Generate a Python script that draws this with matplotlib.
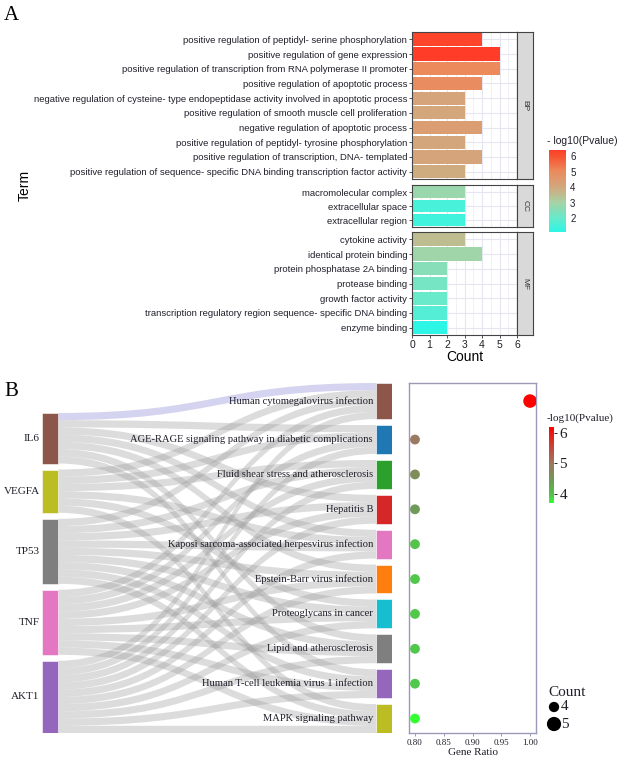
import numpy as np
import matplotlib
matplotlib.use("Agg")
import matplotlib.pyplot as plt
from matplotlib.colors import LinearSegmentedColormap, Normalize
from matplotlib.patches import Rectangle, PathPatch
from matplotlib.path import Path

SANS = "Liberation Sans"
SERIF = "Liberation Serif"
TXT = "#1f1f2a"

# ---------------- panel A data ----------------
bp_terms = ["positive regulation of peptidyl- serine phosphorylation",
            "positive regulation of gene expression",
            "positive regulation of transcription from RNA polymerase II promoter",
            "positive regulation of apoptotic process",
            "negative regulation of cysteine- type endopeptidase activity involved in apoptotic process",
            "positive regulation of smooth muscle cell proliferation",
            "negative regulation of apoptotic process",
            "positive regulation of peptidyl- tyrosine phosphorylation",
            "positive regulation of transcription, DNA- templated",
            "positive regulation of sequence- specific DNA binding transcription factor activity"]
bp_counts = [4, 5, 5, 4, 3, 3, 4, 3, 4, 3]
bp_logp = [6.2, 6.4, 5.0, 4.9, 4.1, 4.0, 4.3, 4.0, 4.1, 3.9]

cc_terms = ["macromolecular complex", "extracellular space", "extracellular region"]
cc_counts = [3, 3, 3]
cc_logp = [2.8, 1.5, 1.4]

mf_terms = ["cytokine activity", "identical protein binding",
            "protein phosphatase 2A binding", "protease binding",
            "growth factor activity",
            "transcription regulatory region sequence- specific DNA binding",
            "enzyme binding"]
mf_counts = [3, 4, 2, 2, 2, 2, 2]
mf_logp = [3.5, 2.9, 2.5, 2.2, 2.0, 1.7, 1.1]

# ---------------- panel B data ----------------
genes = ["IL6", "VEGFA", "TP53", "TNF", "AKT1"]
gene_colors = ["#8c564b", "#bcbd22", "#7f7f7f", "#e377c2", "#9467bd"]
pathways = ["Human cytomegalovirus infection",
            "AGE-RAGE signaling pathway in diabetic complications",
            "Fluid shear stress and atherosclerosis",
            "Hepatitis B",
            "Kaposi sarcoma-associated herpesvirus infection",
            "Epstein-Barr virus infection",
            "Proteoglycans in cancer",
            "Lipid and atherosclerosis",
            "Human T-cell leukemia virus 1 infection",
            "MAPK signaling pathway"]
pathway_colors = ["#8c564b", "#1f77b4", "#2ca02c", "#d62728", "#e377c2",
                  "#ff7f0e", "#17becf", "#7f7f7f", "#9467bd", "#bcbd22"]
pathway_genes = [["IL6", "VEGFA", "TP53", "TNF", "AKT1"],
                 ["IL6", "VEGFA", "TNF", "AKT1"],
                 ["VEGFA", "TP53", "TNF", "AKT1"],
                 ["IL6", "TP53", "TNF", "AKT1"],
                 ["IL6", "VEGFA", "TP53", "AKT1"],
                 ["IL6", "TP53", "TNF", "AKT1"],
                 ["VEGFA", "TP53", "TNF", "AKT1"],
                 ["IL6", "TP53", "TNF", "AKT1"],
                 ["IL6", "TP53", "TNF", "AKT1"],
                 ["VEGFA", "TP53", "TNF", "AKT1"]]
path_logp = [6.2, 4.95, 4.6, 4.45, 4.0, 3.95, 3.95, 3.95, 3.95, 3.7]
gene_ratio = [1.0, 0.8, 0.8, 0.8, 0.8, 0.8, 0.8, 0.8, 0.8, 0.8]
path_count = [len(g) for g in pathway_genes]

W, H = 638, 768
fig = plt.figure(figsize=(W / 100, H / 100), dpi=100)
fig.patch.set_facecolor("white")


def px_axes(x0, y0, x1, y1):
    return fig.add_axes([x0 / W, 1 - y1 / H, (x1 - x0) / W, (y1 - y0) / H])


# ================= panel A =================
cmap_a = LinearSegmentedColormap.from_list(
    "go", [(0.0, "#2ef6e6"), (0.17, "#68eacb"), (0.36, "#a8d2a4"),
           (0.55, "#d4a67c"), (0.74, "#ec8a5c"), (0.92, "#f8502f"), (1.0, "#ff3c28")])
all_logp = bp_logp + cc_logp + mf_logp
norm_a = Normalize(min(all_logp), max(all_logp))

facets = [("BP", bp_terms, bp_counts, bp_logp, 32, 179),
          ("CC", cc_terms, cc_counts, cc_logp, 185, 227),
          ("MF", mf_terms, mf_counts, mf_logp, 232, 335)]
for name, terms, counts, logp, y0, y1 in facets:
    ax = px_axes(412, y0, 517, y1)
    n = len(terms)
    ax.set_axisbelow(True)
    ax.barh(range(n), counts, height=0.9, color=cmap_a(norm_a(np.array(logp))))
    ax.set_xlim(0, 6)
    ax.set_ylim(n - 0.5, -0.5)
    ax.set_yticks(range(n))
    ax.set_yticklabels(terms, fontsize=6.8, family=SANS, color=TXT)
    ax.set_xticks(range(7))
    ax.set_xticks(np.arange(0.5, 6, 1), minor=True)
    ax.grid(True, which="major", color="#e6e6f2", lw=0.8)
    ax.grid(True, which="minor", axis="x", color="#eeeef6", lw=0.6)
    ax.tick_params(axis="y", length=2.5, width=0.6, color="#333333", pad=1)
    ax.tick_params(which="minor", length=0)
    if name == "MF":
        ax.set_xticklabels([str(i) for i in range(7)], fontsize=7.5, family=SANS, color=TXT)
        ax.tick_params(axis="x", length=2.5, width=0.6, color="#333333", pad=1)
    else:
        ax.tick_params(axis="x", length=0, labelbottom=False)
    for s in ax.spines.values():
        s.set_color("#444444")
        s.set_linewidth(0.8)
    st = px_axes(517, y0, 533, y1)
    st.set_facecolor("#d9d9d9")
    st.set_xticks([])
    st.set_yticks([])
    for s in st.spines.values():
        s.set_color("#444444")
        s.set_linewidth(0.8)
    st.text(0.5, 0.5, name, rotation=-90, ha="center", va="center",
            fontsize=6, family=SANS, color="#333333", transform=st.transAxes)

fig.text(465 / W, 1 - 357 / H, "Count", ha="center", va="center", fontsize=10, family=SANS)
fig.text(25 / W, 1 - 185 / H, "Term", ha="center", va="center", rotation=90, fontsize=10, family=SANS)
fig.text(4 / W, 1 - 16 / H, "A", ha="left", va="center", fontsize=15, family=SERIF)

cba = px_axes(549, 150, 566, 232)
grad = np.linspace(norm_a.vmin, norm_a.vmax, 256).reshape(-1, 1)
cba.imshow(grad, aspect="auto", origin="lower", cmap=cmap_a, norm=norm_a,
           extent=(0, 1, norm_a.vmin, norm_a.vmax))
cba.set_xticks([])
cba.yaxis.tick_right()
cba.set_yticks([2, 3, 4, 5, 6])
cba.set_yticklabels(["2", "3", "4", "5", "6"], fontsize=7, family=SANS, color=TXT)
cba.tick_params(axis="y", length=0, pad=3)
for s in cba.spines.values():
    s.set_visible(False)
fig.text(547 / W, 1 - 141 / H, "- log10(Pvalue)", ha="left", va="center", fontsize=7.5, family=SANS, color=TXT)

# ================= panel B =================
fig.text(4 / W, 1 - 392 / H, "B", ha="left", va="center", fontsize=15, family=SERIF)

gap = 0.83
node_w = 16
span_x = 350
gene_count = [sum(g in pg for pg in pathway_genes) for g in genes]
n_links = sum(path_count)
total = n_links + (len(pathways) - 1) * gap
path_top = [sum(path_count[:j]) + j * gap for j in range(len(pathways))]
left_off = total - (n_links + (len(genes) - 1) * gap)
gene_top = [left_off + sum(gene_count[:i]) + i * gap for i in range(len(genes))]
path_center = [path_top[j] + path_count[j] / 2 for j in range(len(pathways))]

sk = px_axes(42, 383, 392, 733)
sk.set_xlim(0, span_x)
sk.set_ylim(total, 0)
sk.axis("off")

# slots
src_slot = {}
for i, g in enumerate(genes):
    k = 0
    for j, pg in enumerate(pathway_genes):
        if g in pg:
            src_slot[(i, j)] = gene_top[i] + k
            k += 1
tgt_slot = {}
for j, pg in enumerate(pathway_genes):
    k = 0
    for i, g in enumerate(genes):
        if g in pg:
            tgt_slot[(i, j)] = path_top[j] + k
            k += 1

x0, x1 = node_w, span_x - node_w
xm = (x0 + x1) / 2
for (i, j), s in src_slot.items():
    t = tgt_slot[(i, j)]
    verts = [(x0, s), (xm, s), (xm, t), (x1, t), (x1, t + 1),
             (xm, t + 1), (xm, s + 1), (x0, s + 1), (x0, s)]
    codes = [Path.MOVETO, Path.CURVE4, Path.CURVE4, Path.CURVE4, Path.LINETO,
             Path.CURVE4, Path.CURVE4, Path.CURVE4, Path.CLOSEPOLY]
    if i == 0 and j == 0:
        col, a = "#b8b8e6", 0.6
    else:
        col, a = "#9a9a9a", 0.34
    sk.add_patch(PathPatch(Path(verts, codes), facecolor=col, edgecolor="none", alpha=a))

for i, g in enumerate(genes):
    sk.add_patch(Rectangle((0, gene_top[i]), node_w, gene_count[i], facecolor=gene_colors[i],
                           edgecolor="white", lw=0.4))
    sk.text(-2.5, gene_top[i] + gene_count[i] / 2, g, ha="right", va="center",
            fontsize=8, family=SERIF, color=TXT, clip_on=False)
for j, p in enumerate(pathways):
    sk.add_patch(Rectangle((x1, path_top[j]), node_w, path_count[j], facecolor=pathway_colors[j],
                           edgecolor="white", lw=0.4))
    sk.text(x1 - 3, path_center[j], p, ha="right", va="center",
            fontsize=7.6, family=SERIF, color=TXT)

# dot plot
cmap_b = LinearSegmentedColormap.from_list(
    "gr", [(0.0, "#33ff33"), (0.1, "#52c64c"), (0.2, "#5fb04e"),
           (0.3, "#6f9a5a"), (0.36, "#7e8e5a"), (0.5, "#9a7a62"),
           (0.75, "#c84438"), (1.0, "#ff0000")])
norm_b = Normalize(min(path_logp), max(path_logp))
size_map = {4: 50, 5: 95}

dp = px_axes(409, 383, 536, 733)
dp.set_ylim(total, 0)
dp.set_xlim(0.7896, 1.0104)
dp.scatter(gene_ratio, path_center, s=[size_map[c] for c in path_count],
           c=path_logp, cmap=cmap_b, norm=norm_b, edgecolors="none", zorder=3)
dp.set_yticks([])
dp.set_xticks([0.80, 0.85, 0.90, 0.95, 1.00])
dp.set_xticklabels(["0.80", "0.85", "0.90", "0.95", "1.00"], fontsize=6.5, family=SERIF, color=TXT)
dp.tick_params(axis="x", length=2, width=0.6, color="#8888aa", pad=2)
for s in dp.spines.values():
    s.set_color("#9a9ab8")
    s.set_linewidth(1.0)
dp.set_xlabel("Gene Ratio", fontsize=8, family=SERIF, color=TXT, labelpad=1)

cbb = px_axes(549, 427, 554, 503)
grad_b = np.linspace(norm_b.vmin, norm_b.vmax, 256).reshape(-1, 1)
cbb.imshow(grad_b, aspect="auto", origin="lower", cmap=cmap_b, norm=norm_b,
           extent=(0, 1, norm_b.vmin, norm_b.vmax))
cbb.set_xticks([])
cbb.yaxis.tick_right()
cbb.set_yticks([4, 5, 6])
cbb.set_yticklabels(["4", "5", "6"], fontsize=11, family=SERIF, color=TXT)
cbb.tick_params(axis="y", length=2, width=0.6, pad=2)
for s in cbb.spines.values():
    s.set_visible(False)
fig.text(547 / W, 1 - 418 / H, "-log10(Pvalue)", ha="left", va="center", fontsize=8, family=SERIF, color=TXT)

# size legend
fig.text(548 / W, 1 - 692 / H, "Count", ha="left", va="center", fontsize=11, family=SERIF, color=TXT)
lg = px_axes(545, 698, 600, 735)
lg.set_xlim(0, 55)
lg.set_ylim(37, 0)
lg.axis("off")
for k, c in enumerate(sorted(size_map)):
    yy = 9 + k * 17
    lg.scatter([9], [yy], s=size_map[c] * 1.1, c="black", edgecolors="none")
    lg.text(16, yy, str(c), ha="left", va="center", fontsize=11, family=SERIF, color=TXT)

fig.savefig("out.png", dpi=100, facecolor="white")
